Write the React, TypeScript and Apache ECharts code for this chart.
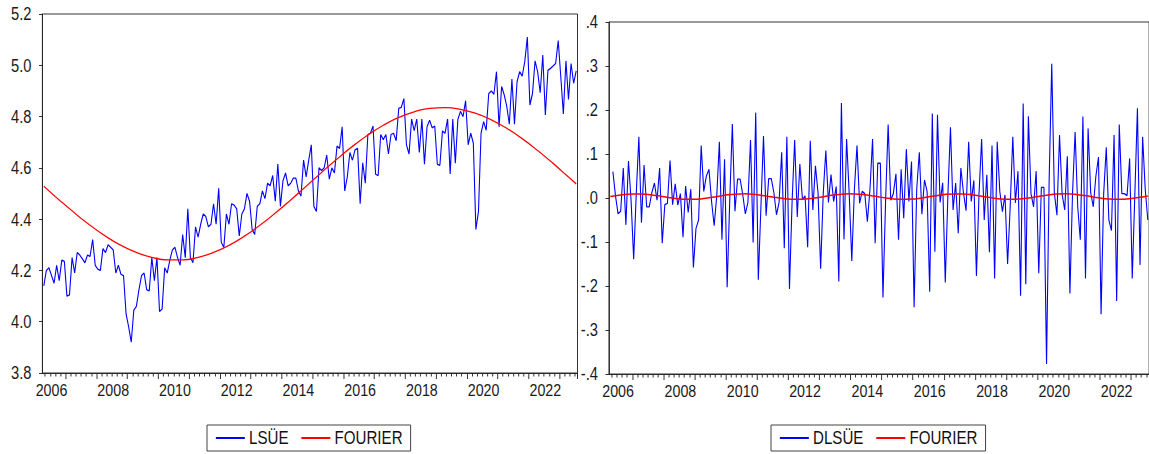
import React, { useEffect, useRef } from "react";
import * as echarts from "echarts";

// ---- data ----
const START_YEAR = 2006;
const START_MONTH = 4; // April 2006
const N_OBS = 208;

const lsue = [
  4.14, 4.20, 4.21, 4.18, 4.15, 4.22, 4.16, 4.24, 4.235, 4.10,
  4.105, 4.25, 4.19, 4.27, 4.26, 4.245, 4.23, 4.26, 4.255, 4.32,
  4.22, 4.205, 4.20, 4.285, 4.27, 4.30, 4.29, 4.28, 4.19, 4.22,
  4.185, 4.18, 4.03, 3.98, 3.92, 4.045, 4.06, 4.125, 4.18, 4.19,
  4.125, 4.12, 4.25, 4.16, 4.25, 4.04, 4.05, 4.21, 4.19, 4.24,
  4.28, 4.29, 4.25, 4.22, 4.34, 4.25, 4.44, 4.25, 4.23, 4.37,
  4.33, 4.38, 4.42, 4.41, 4.37, 4.38, 4.46, 4.38, 4.52, 4.31,
  4.29, 4.42, 4.38, 4.46, 4.455, 4.44, 4.335, 4.42, 4.44, 4.50,
  4.47, 4.36, 4.34, 4.45, 4.46, 4.51, 4.48, 4.54, 4.53, 4.57,
  4.47, 4.615, 4.45, 4.55, 4.58, 4.53, 4.54, 4.56, 4.56, 4.51,
  4.49, 4.63, 4.565, 4.63, 4.69, 4.45, 4.43, 4.60, 4.59, 4.60,
  4.65, 4.556, 4.60, 4.58, 4.685, 4.676, 4.76, 4.51, 4.565, 4.66,
  4.63, 4.67, 4.676, 4.46, 4.62, 4.54, 4.73, 4.735, 4.763, 4.575,
  4.57, 4.73, 4.71, 4.73, 4.654, 4.73, 4.735, 4.706, 4.832, 4.836,
  4.87, 4.69, 4.654, 4.79, 4.745, 4.79, 4.66, 4.79, 4.614, 4.76,
  4.786, 4.756, 4.763, 4.614, 4.61, 4.744, 4.735, 4.79, 4.576, 4.79,
  4.618, 4.79, 4.82, 4.80, 4.862, 4.69, 4.735, 4.696, 4.36, 4.43,
  4.735, 4.78, 4.747, 4.89, 4.90, 4.887, 4.975, 4.76, 4.917, 4.885,
  4.84, 4.77, 4.946, 4.77, 4.936, 4.975, 4.958, 5.014, 5.11, 4.845,
  4.89, 5.017, 4.975, 4.893, 5.04, 4.806, 4.98, 4.988, 4.997, 5.007,
  5.096, 4.956, 4.81, 5.017, 4.867, 5.007, 4.93, 4.978,
];

const dlsue = [
  null, 0.060, 0.005, -0.036, -0.030, 0.068, -0.061, 0.084, -0.005, -0.139,
  0.010, 0.139, -0.056, 0.075, -0.02, -0.02, 0.012, 0.034, -0.005, 0.068,
  -0.103, -0.015, -0.012, 0.085, -0.015, 0.032, -0.016, 0.01, -0.089, 0.027,
  -0.033, 0.02, -0.158, -0.069, -0.05, 0.119, 0.015, 0.05, 0.065, -0.008,
  -0.063, 0.005, 0.128, -0.095, 0.088, -0.203, -0.005, 0.168, -0.03, 0.043,
  0.043, 0.008, -0.036, -0.01, 0.132, -0.101, 0.194, -0.186, -0.02, 0.141,
  -0.04, 0.044, 0.044, 0.012, -0.038, -0.01, 0.104, -0.114, 0.139, -0.207,
  -0.01, 0.132, -0.043, 0.077, -0.004, 0.005, -0.112, 0.130, -0.027, 0.073,
  0.012, -0.161, 0.01, 0.108, -0.01, 0.053, -0.008, 0.026, -0.190, 0.216,
  -0.094, 0.134, 0.01, -0.143, 0.02, 0.119, -0.012, 0.015, 0.01, -0.054,
  0.02, 0.134, -0.103, 0.079, 0.079, -0.226, -0.01, 0.167, -0.005, 0.01,
  0.055, -0.095, 0.065, -0.046, 0.111, -0.008, 0.083, -0.248, 0.02, 0.104,
  -0.037, 0.041, 0.015, -0.213, 0.192, -0.122, 0.189, -0.01, 0.0345, -0.192,
  0.005, 0.161, -0.027, 0.034, -0.080, 0.068, 0.012, -0.029, 0.128, -0.008,
  0.04, -0.177, 0.01, 0.134, -0.05, 0.053, -0.123, 0.119, -0.183, 0.128,
  0.015, -0.031, 0.007, -0.15, -0.02, 0.139, -0.011, 0.061, -0.222, 0.215,
  -0.196, 0.186, 0.01, -0.02, 0.061, -0.171, 0.024, 0.024, -0.377, 0.04,
  0.305, 0.012, -0.039, 0.143, 0.008, -0.027, 0.095, -0.217, 0.01, 0.15,
  -0.02, -0.095, 0.185, -0.183, 0.158, 0.012, -0.02, 0.05, 0.093, -0.264,
  0.01, 0.115, -0.05, -0.074, 0.143, -0.234, 0.167, 0.01, 0.01, 0.005,
  0.090, -0.183, 0.008, 0.204, -0.152, 0.139, 0.02, -0.05,
];

const fourierLeftIdx = [
  0, 6, 12, 18, 24, 30, 36, 42, 48, 54, 60, 66, 72, 78, 84, 90, 96, 102,
  108, 114, 120, 126, 132, 138, 144, 150, 156, 162, 168, 174, 180, 186, 192,
  198, 204, 207,
];
const fourierLeftVal = [
  4.5285, 4.4750, 4.4237, 4.3760, 4.3336, 4.2979, 4.2700, 4.2509, 4.2412,
  4.2412, 4.2509, 4.2700, 4.2979, 4.3336, 4.3760, 4.4237, 4.4750, 4.5285,
  4.5822, 4.6345, 4.6837, 4.7279, 4.7661, 4.7967, 4.8187, 4.8316, 4.8349,
  4.8284, 4.8124, 4.7873, 4.7541, 4.7139, 4.6677, 4.6174, 4.5644, 4.5375,
];

const fourierRightIdx = [
  0, 4, 8, 12, 16, 20, 24, 28, 32, 36, 40, 44, 48, 52, 56, 60, 64, 68, 72,
  76, 80, 84, 88, 92, 96, 100, 104, 108, 112, 116, 120, 124, 128, 132, 136,
  140, 144, 148, 152, 156, 160, 164, 168, 172, 176, 180, 184, 188, 192, 196,
  200, 204, 207,
];
const fourierRightVal = [
  0.0035, 0.0070, 0.0092, 0.0092, 0.0070, 0.0035, -0.0002, -0.0026, -0.0030,
  -0.0011, 0.0023, 0.0061, 0.0088, 0.0095, 0.0079, 0.0046, 0.0009, -0.0021,
  -0.0031, -0.0019, 0.0012, 0.0050, 0.0081, 0.0095, 0.0086, 0.0057, 0.0020,
  -0.0014, -0.0030, -0.0025, 0.0002, 0.0039, 0.0073, 0.0093, 0.0091, 0.0067,
  0.0031, -0.0005, -0.0027, -0.0029, -0.0008, 0.0027, 0.0064, 0.0089, 0.0094,
  0.0076, 0.0043, 0.0005, -0.0023, -0.0031, -0.0016, 0.0016, 0.0044,
];

const leftY = { min: 3.8, max: 5.2, interval: 0.2 };
const rightY = { min: -0.4, max: 0.4, interval: 0.1 };
const legendLeft = ["LSÜE", "FOURIER"];
const legendRight = ["DLSÜE", "FOURIER"];

// ---- categories (months) ----
const months: { y: number; m: number }[] = [];
for (let k = 0; k < N_OBS; k++) {
  const t = START_MONTH - 1 + k;
  months.push({ y: START_YEAR + Math.floor(t / 12), m: (t % 12) + 1 });
}
const cats = months.map((d) => `${d.y}-${d.m < 10 ? "0" + d.m : d.m}`);

// ---- layout (visual px -> unscaled px) ----
const S = 0.84;
const W = 1149;
const H = 454;
const u = (v: number) => v / S;
const FONT = "'Liberation Sans', Arial, Helvetica, sans-serif";

function xAxes(gridIndex: number) {
  const common = {
    type: "category" as const,
    gridIndex,
    data: cats,
    boundaryGap: true,
    position: "bottom" as const,
    offset: 0,
    splitLine: { show: false },
  };
  return [
    {
      ...common,
      axisLine: { show: true, onZero: false, lineStyle: { color: "#222", width: 1 } },
      axisTick: {
        show: true,
        inside: false,
        length: 6,
        interval: (i: number) => months[i].m === 1,
        lineStyle: { color: "#222", width: 1 },
      },
      axisLabel: {
        show: true,
        interval: (i: number) => months[i].m === 7 && months[i].y % 2 === 0,
        formatter: (v: string) => v.slice(0, 4),
        color: "#1a1a1a",
        fontSize: 17,
        fontFamily: FONT,
        margin: 9,
      },
    },
    {
      ...common,
      axisLine: { show: false, onZero: false },
      axisTick: {
        show: true,
        inside: false,
        length: 3.5,
        interval: (i: number) => months[i].m % 2 === 1 && months[i].m !== 1,
        lineStyle: { color: "#222", width: 1 },
      },
      axisLabel: { show: false },
    },
  ];
}

function yAxis(gridIndex: number, cfg: { min: number; max: number; interval: number }, fmt: (v: number) => string) {
  return {
    type: "value" as const,
    gridIndex,
    min: cfg.min,
    max: cfg.max,
    interval: cfg.interval,
    splitLine: { show: false },
    axisLine: { show: true, lineStyle: { color: "#222", width: 1 } },
    axisTick: { show: true, inside: false, length: u(3.5), lineStyle: { color: "#222", width: 1 } },
    axisLabel: {
      formatter: fmt,
      color: "#1a1a1a",
      fontSize: 17.5,
      fontFamily: FONT,
      margin: u(11),
    },
  };
}

function legend(names: string[], left: number) {
  return {
    data: names,
    left: u(left),
    top: 425,
    orient: "horizontal" as const,
    itemWidth: u(29),
    itemHeight: 14,
    itemGap: u(12),
    padding: [4, u(8), 4, u(8)],
    borderColor: "#333",
    borderWidth: 1,
    backgroundColor: "#fff",
    selectedMode: false,
    itemStyle: { opacity: 0 },
    textStyle: { color: "#111", fontSize: 18, fontFamily: FONT, lineHeight: 18 },
  };
}

export default function App() {
  const ref = useRef<HTMLDivElement>(null);

  useEffect(() => {
    if (!ref.current) return;
    const chart = echarts.init(ref.current, null, { renderer: "svg" });
    const fl = fourierLeftIdx.map((i, k) => [i, fourierLeftVal[k]]);
    const fr = fourierRightIdx.map((i, k) => [i, fourierRightVal[k]]);
    chart.setOption({
      animation: false,
      backgroundColor: "#fff",
      grid: [
        {
          left: u(42.5),
          top: 14,
          width: u(535),
          height: 359,
          show: true,
          borderColor: "#222",
          borderWidth: 1,
          backgroundColor: "transparent",
        },
        {
          left: u(609),
          top: 22,
          width: u(545),
          height: 352,
          show: true,
          borderColor: "#222",
          borderWidth: 1,
          backgroundColor: "transparent",
        },
      ],
      xAxis: [...xAxes(0), ...xAxes(1)],
      yAxis: [
        yAxis(0, leftY, (v: number) => v.toFixed(1)),
        yAxis(1, rightY, (v: number) => {
          if (Math.abs(v) < 1e-9) return ".0";
          return v.toFixed(1).replace("0.", ".");
        }),
      ],
      legend: [legend(legendLeft, 207), legend(legendRight, 771)],
      series: [
        {
          name: "LSÜE",
          type: "line",
          xAxisIndex: 0,
          yAxisIndex: 0,
          data: lsue,
          symbol: "none",
          color: "#0000ff",
          lineStyle: { color: "#0000ff", width: 1.3 },
          z: 3,
        },
        {
          name: "FOURIER",
          type: "line",
          xAxisIndex: 0,
          yAxisIndex: 0,
          data: fl,
          symbol: "none",
          smooth: true,
          color: "#ff0000",
          lineStyle: { color: "#ff0000", width: 1.3 },
          z: 4,
        },
        {
          name: "DLSÜE",
          type: "line",
          xAxisIndex: 2,
          yAxisIndex: 1,
          data: dlsue,
          symbol: "none",
          color: "#0000ff",
          lineStyle: { color: "#0000ff", width: 1.3 },
          z: 3,
        },
        {
          name: "FOURIER",
          type: "line",
          xAxisIndex: 2,
          yAxisIndex: 1,
          data: fr,
          symbol: "none",
          smooth: true,
          color: "#ff0000",
          lineStyle: { color: "#ff0000", width: 1.5 },
          z: 4,
        },
      ],
    });
    return () => chart.dispose();
  }, []);

  return (
    <div
      ref={ref}
      style={{
        position: "fixed",
        left: 0,
        top: 0,
        width: Math.round(W / S),
        height: H,
        transform: `scaleX(${S})`,
        transformOrigin: "0 0",
        background: "#fff",
      }}
    />
  );
}
